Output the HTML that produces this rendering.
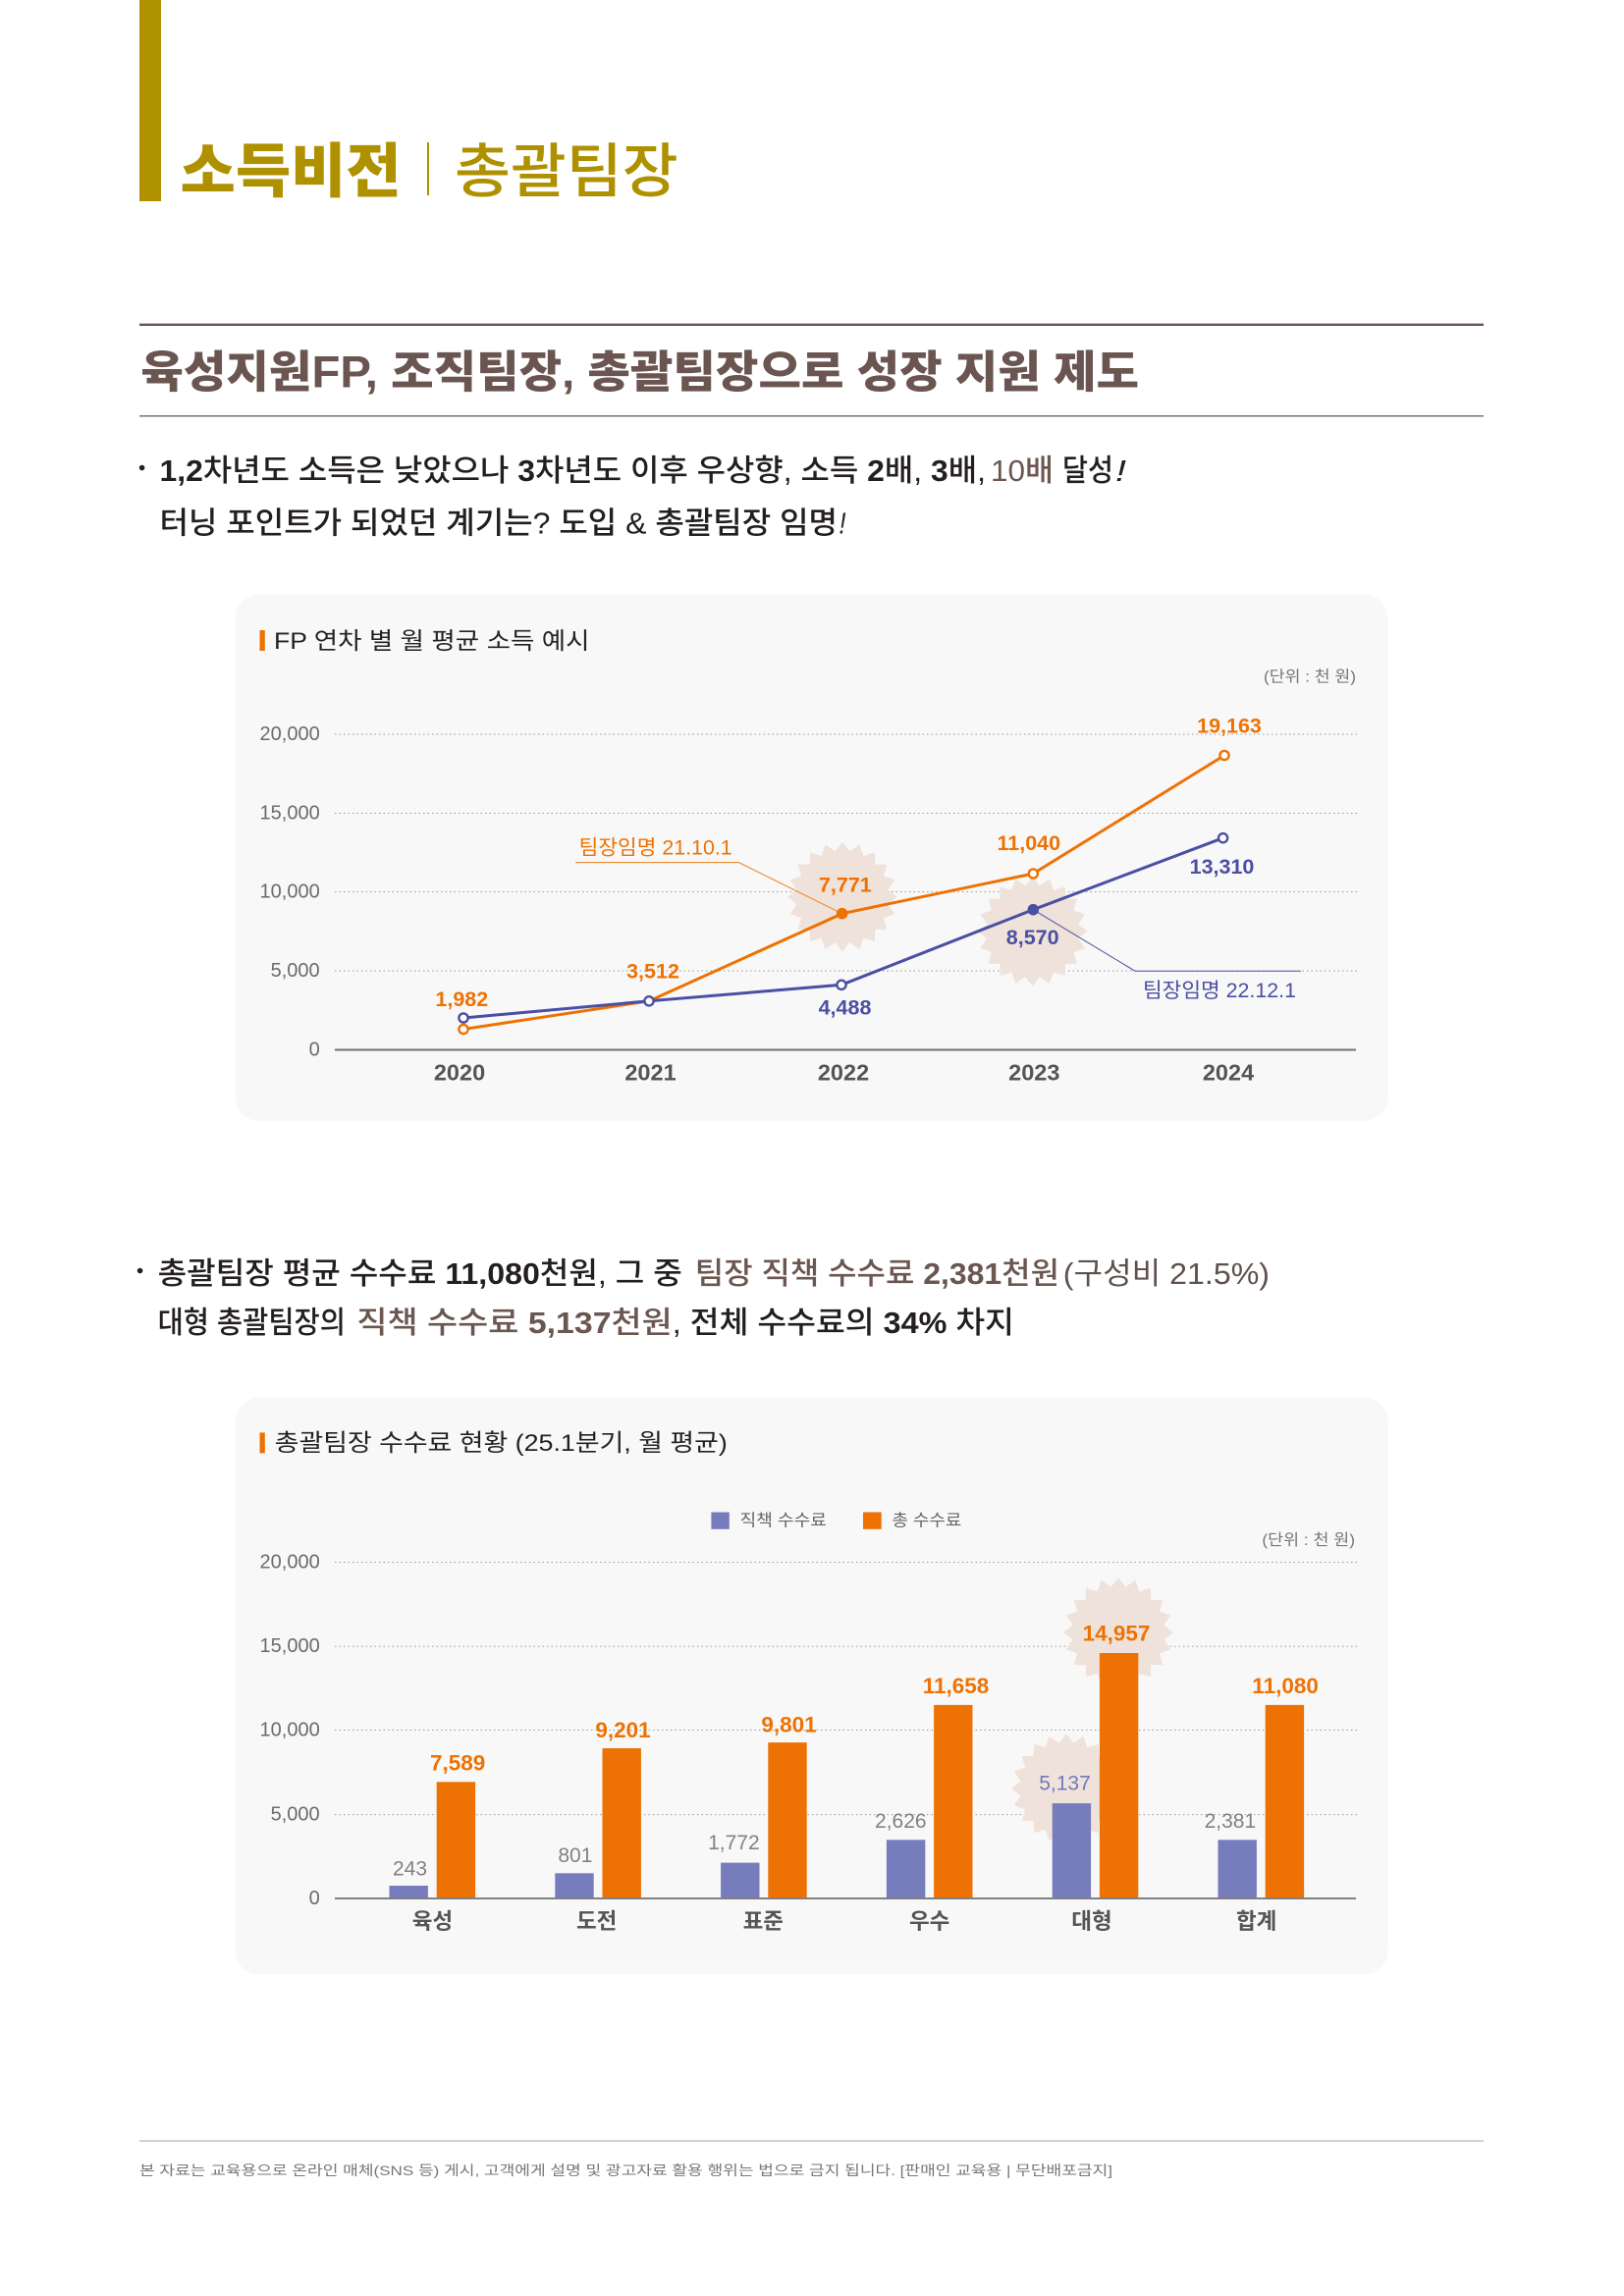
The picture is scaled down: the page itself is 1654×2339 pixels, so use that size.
<!DOCTYPE html>
<html lang="ko">
<head>
<meta charset="utf-8">
<title>소득비전 | 총괄팀장</title>
<style>
  html, body { margin: 0; padding: 0; background: #ffffff; }
  svg { display: block; }
</style>
</head>
<body>
<svg width="1654" height="2339" viewBox="0 0 1654 2339" xmlns="http://www.w3.org/2000/svg" font-family='"Liberation Sans", "Noto Sans CJK KR", sans-serif'>
  <defs>
    <polygon id="burst" points="56,0 46.42,7.35 53.26,17.30 41.88,21.34 45.30,32.92 33.23,33.23 32.92,45.30 21.34,41.88 17.30,53.26 7.35,46.42 0,56 -7.35,46.42 -17.30,53.26 -21.34,41.88 -32.92,45.30 -33.23,33.23 -45.30,32.92 -41.88,21.34 -53.26,17.30 -46.42,7.35 -56,0 -46.42,-7.35 -53.26,-17.30 -41.88,-21.34 -45.30,-32.92 -33.23,-33.23 -32.92,-45.30 -21.34,-41.88 -17.30,-53.26 -7.35,-46.42 0,-56 7.35,-46.42 17.30,-53.26 21.34,-41.88 32.92,-45.30 33.23,-33.23 45.30,-32.92 41.88,-21.34 53.26,-17.30 46.42,-7.35" fill="#efe2da"/>
  </defs>

  <rect x="0" y="0" width="1654" height="2339" fill="#ffffff"/>

  <!-- ===== Header ===== -->
  <rect x="142" y="0" width="22" height="205" fill="#af9100"/>
  <text x="183.6" y="195.7" font-size="60" font-weight="900" fill="#af9100" textLength="225" lengthAdjust="spacingAndGlyphs">소득비전</text>
  <rect x="435" y="145" width="2" height="54" fill="#af9100"/>
  <text x="463" y="195.7" font-size="60" font-weight="500" fill="#af9100" textLength="227.7" lengthAdjust="spacingAndGlyphs">총괄팀장</text>

  <rect x="142" y="329.6" width="1369" height="2.4" fill="#6a5550"/>
  <text x="143.4" y="394.3" font-size="45" font-weight="900" fill="#6a5550" textLength="1016.6" lengthAdjust="spacingAndGlyphs">육성지원FP, 조직팀장, 총괄팀장으로 성장 지원 제도</text>
  <rect x="142" y="423" width="1369" height="1.6" fill="#847874"/>

  <!-- ===== Section 1 text ===== -->
  <circle cx="144.6" cy="476.5" r="2.8" fill="#231f20"/>
  <text x="162.5" y="490" font-size="31" font-weight="500" fill="#231f20" textLength="841.5" lengthAdjust="spacingAndGlyphs"><tspan font-weight="700">1,2</tspan>차년도 소득은 낮았으나 <tspan font-weight="700">3</tspan>차년도 이후 우상향, 소득 <tspan font-weight="700">2</tspan>배, <tspan font-weight="700">3</tspan>배,</text>
  <text x="1009" y="490" font-size="31" font-weight="500" fill="#6b5650" textLength="64" lengthAdjust="spacingAndGlyphs">10배</text>
  <text x="1082" y="490" font-size="31" font-weight="500" fill="#231f20" textLength="52" lengthAdjust="spacingAndGlyphs">달성</text>
  <text x="1136" y="490" font-size="31" font-weight="500" font-style="italic" fill="#231f20" textLength="11" lengthAdjust="spacingAndGlyphs">!</text>

  <text x="162.5" y="543.5" font-size="31" font-weight="500" fill="#231f20" textLength="690.5" lengthAdjust="spacingAndGlyphs">터닝 포인트가 되었던 계기는? 도입 &amp; 총괄팀장 임명</text>
  <text x="854.5" y="543.5" font-size="31" font-weight="500" font-style="italic" fill="#231f20" textLength="7" lengthAdjust="spacingAndGlyphs">!</text>

  <!-- ===== Chart 1 card ===== -->
  <rect x="239.6" y="605.7" width="1174" height="536" rx="24" ry="24" fill="#f8f8f8"/>
  <rect x="264.5" y="642" width="5.3" height="21" fill="#ee7203"/>
  <text x="279" y="661" font-size="24" font-weight="400" fill="#222222" textLength="321.5" lengthAdjust="spacingAndGlyphs">FP 연차 별 월 평균 소득 예시</text>
  <text x="1381" y="690" font-size="16" fill="#777777" text-anchor="end" dominant-baseline="central" textLength="94" lengthAdjust="spacingAndGlyphs">(단위 : 천 원)</text>

  <!-- gridlines -->
  <g stroke="#9a9a9a" stroke-width="1" stroke-dasharray="1.5 3">
    <line x1="341" y1="748" x2="1382" y2="748"/>
    <line x1="341" y1="828.5" x2="1382" y2="828.5"/>
    <line x1="341" y1="908.5" x2="1382" y2="908.5"/>
    <line x1="341" y1="989" x2="1382" y2="989"/>
  </g>
  <line x1="341" y1="1069.5" x2="1381" y2="1069.5" stroke="#707070" stroke-width="2"/>

  <g font-size="20" fill="#6b6b6b" text-anchor="end" dominant-baseline="central">
    <text x="325.7" y="748">20,000</text>
    <text x="325.7" y="828.5">15,000</text>
    <text x="325.7" y="908.5">10,000</text>
    <text x="325.7" y="989">5,000</text>
    <text x="325.7" y="1069.5">0</text>
  </g>

  <g font-size="23.5" font-weight="700" fill="#555555" text-anchor="middle" dominant-baseline="central">
    <text x="468" y="1092.7">2020</text>
    <text x="662.5" y="1092.7">2021</text>
    <text x="859" y="1092.7">2022</text>
    <text x="1053.3" y="1092.7">2023</text>
    <text x="1251" y="1092.7">2024</text>
  </g>

  <!-- bursts -->
  <use href="#burst" x="858" y="913.7"/>
  <use href="#burst" x="1051.7" y="948.7"/>

  <!-- leaders -->
  <polyline points="586,878.6 752.4,878.6 857.7,930.7" fill="none" stroke="#f08a30" stroke-width="1.1"/>
  <polyline points="1052.3,926.7 1156,989.2 1324.8,989.2" fill="none" stroke="#4a4fa3" stroke-width="1"/>

  <!-- lines -->
  <polyline points="472,1048.5 661,1019.8 857.7,930.7 1052.3,890 1247,769.5" fill="none" stroke="#ee7203" stroke-width="3" stroke-linejoin="round"/>
  <polyline points="472,1037 661,1019.8 857,1003.3 1052.3,926.7 1245.6,853.7" fill="none" stroke="#4a4fa3" stroke-width="3" stroke-linejoin="round"/>

  <!-- markers -->
  <g fill="#ffffff" stroke="#ee7203" stroke-width="2.4">
    <circle cx="472" cy="1048.5" r="4.6"/>
    <circle cx="1052.3" cy="890" r="4.6"/>
    <circle cx="1247" cy="769.5" r="4.6"/>
  </g>
  <circle cx="857.7" cy="930.7" r="5.8" fill="#ee7203"/>
  <g fill="#ffffff" stroke="#4a4fa3" stroke-width="2.4">
    <circle cx="472" cy="1037" r="4.6"/>
    <circle cx="661" cy="1019.8" r="4.6"/>
    <circle cx="857" cy="1003.3" r="4.6"/>
    <circle cx="1245.6" cy="853.7" r="4.6"/>
  </g>
  <circle cx="1052.3" cy="926.7" r="5.8" fill="#4a4fa3"/>

  <!-- value labels chart 1 -->
  <g font-size="21.5" font-weight="700" text-anchor="middle" dominant-baseline="central">
    <text x="470.3" y="1018" fill="#ee7203">1,982</text>
    <text x="665" y="989.6" fill="#ee7203">3,512</text>
    <text x="860.8" y="901.7" fill="#ee7203">7,771</text>
    <text x="1047.8" y="859" fill="#ee7203">11,040</text>
    <text x="1252" y="739.7" fill="#ee7203">19,163</text>
    <text x="860.5" y="1026.7" fill="#4a4fa3">4,488</text>
    <text x="1051.7" y="955" fill="#4a4fa3">8,570</text>
    <text x="1244.5" y="883.2" fill="#4a4fa3">13,310</text>
  </g>
  <text x="589.7" y="864" font-size="21" fill="#ee7203" dominant-baseline="central" textLength="156" lengthAdjust="spacingAndGlyphs">팀장임명 21.10.1</text>
  <text x="1164" y="1009.5" font-size="21" fill="#4a4fa3" dominant-baseline="central" textLength="156" lengthAdjust="spacingAndGlyphs">팀장임명 22.12.1</text>

  <!-- ===== Section 2 text ===== -->
  <circle cx="142.6" cy="1294.5" r="2.8" fill="#231f20"/>
  <text x="160.6" y="1308" font-size="31" font-weight="500" fill="#231f20" textLength="534.2" lengthAdjust="spacingAndGlyphs">총괄팀장 평균 수수료 <tspan font-weight="700">11,080</tspan>천원, 그 중</text>
  <text x="707.8" y="1308" font-size="31" font-weight="500" fill="#6b5650" textLength="371.2" lengthAdjust="spacingAndGlyphs">팀장 직책 수수료 <tspan font-weight="700">2,381</tspan>천원</text>
  <text x="1082.8" y="1308" font-size="31" font-weight="400" fill="#5e514d" textLength="210.2" lengthAdjust="spacingAndGlyphs">(구성비 21.5%)</text>

  <text x="160.6" y="1358" font-size="31" font-weight="500" fill="#231f20" textLength="191.4" lengthAdjust="spacingAndGlyphs">대형 총괄팀장의</text>
  <text x="363.4" y="1358" font-size="31" font-weight="500" fill="#6b5650" textLength="321.4" lengthAdjust="spacingAndGlyphs">직책 수수료 <tspan font-weight="700">5,137</tspan>천원</text>
  <text x="684.8" y="1358" font-size="31" font-weight="500" fill="#231f20" textLength="348.2" lengthAdjust="spacingAndGlyphs">, 전체 수수료의 <tspan font-weight="700">34%</tspan> 차지</text>

  <!-- ===== Chart 2 card ===== -->
  <rect x="239.6" y="1423.8" width="1174" height="587.5" rx="24" ry="24" fill="#f8f8f8"/>
  <rect x="264.5" y="1459.4" width="5.3" height="21" fill="#ee7203"/>
  <text x="279.8" y="1478" font-size="24.5" font-weight="400" fill="#222222" textLength="461" lengthAdjust="spacingAndGlyphs">총괄팀장 수수료 현황 (25.1분기, 월 평균)</text>

  <!-- legend -->
  <rect x="724.4" y="1540.5" width="18.4" height="17.3" fill="#767cbc"/>
  <text x="753.5" y="1549" font-size="17" fill="#666666" dominant-baseline="central" textLength="88.5" lengthAdjust="spacingAndGlyphs">직책 수수료</text>
  <rect x="879" y="1540.5" width="18.7" height="17.3" fill="#ee7203"/>
  <text x="908.5" y="1549" font-size="17" fill="#666666" dominant-baseline="central" textLength="70.8" lengthAdjust="spacingAndGlyphs">총 수수료</text>
  <text x="1380" y="1569.3" font-size="16" fill="#777777" text-anchor="end" dominant-baseline="central" textLength="94.6" lengthAdjust="spacingAndGlyphs">(단위 : 천 원)</text>

  <!-- gridlines -->
  <g stroke="#9a9a9a" stroke-width="1" stroke-dasharray="1.5 3">
    <line x1="341" y1="1591.5" x2="1382" y2="1591.5"/>
    <line x1="341" y1="1677.2" x2="1382" y2="1677.2"/>
    <line x1="341" y1="1762.5" x2="1382" y2="1762.5"/>
    <line x1="341" y1="1848.6" x2="1382" y2="1848.6"/>
  </g>

  <g font-size="20" fill="#6b6b6b" text-anchor="end" dominant-baseline="central">
    <text x="325.7" y="1591.5">20,000</text>
    <text x="325.7" y="1677.2">15,000</text>
    <text x="325.7" y="1762.5">10,000</text>
    <text x="325.7" y="1848.6">5,000</text>
    <text x="325.7" y="1934">0</text>
  </g>

  <!-- bursts chart 2 -->
  <use href="#burst" x="1139" y="1663"/>
  <use href="#burst" x="1086" y="1822"/>

  <!-- bars: blue -->
  <g fill="#767cbc">
    <rect x="396.5" y="1921" width="39.4" height="13"/>
    <rect x="565.3" y="1908.3" width="39.4" height="25.7"/>
    <rect x="734.1" y="1897.6" width="39.4" height="36.4"/>
    <rect x="902.9" y="1874.3" width="39.4" height="59.7"/>
    <rect x="1071.7" y="1837.1" width="39.4" height="96.9"/>
    <rect x="1240.5" y="1874.3" width="39.4" height="59.7"/>
  </g>
  <!-- bars: orange -->
  <g fill="#ee7203">
    <rect x="444.7" y="1815.3" width="39.4" height="118.7"/>
    <rect x="613.5" y="1781" width="39.4" height="153"/>
    <rect x="782.3" y="1775.1" width="39.4" height="158.9"/>
    <rect x="951.1" y="1736.9" width="39.4" height="197.1"/>
    <rect x="1119.9" y="1684" width="39.4" height="250"/>
    <rect x="1288.7" y="1736.9" width="39.4" height="197.1"/>
  </g>

  <line x1="341" y1="1934" x2="1381" y2="1934" stroke="#808080" stroke-width="2"/>

  <!-- value labels chart 2 -->
  <g font-size="21" font-weight="400" fill="#858080" text-anchor="middle" dominant-baseline="central">
    <text x="417.5" y="1904">243</text>
    <text x="585.9" y="1890.7">801</text>
    <text x="747.4" y="1877.3">1,772</text>
    <text x="917.3" y="1855.5">2,626</text>
    <text x="1084.5" y="1817.2" fill="#7379bd">5,137</text>
    <text x="1252.9" y="1855.5">2,381</text>
  </g>
  <g font-size="22.5" font-weight="700" fill="#ee7203" text-anchor="middle" dominant-baseline="central">
    <text x="466.1" y="1796.2">7,589</text>
    <text x="634.5" y="1762.5">9,201</text>
    <text x="803.5" y="1756.8">9,801</text>
    <text x="973.5" y="1717.7">11,658</text>
    <text x="1137" y="1663.8">14,957</text>
    <text x="1309.1" y="1717.7">11,080</text>
  </g>

  <g font-size="22.5" font-weight="700" fill="#555555" text-anchor="middle" dominant-baseline="central">
    <text x="440.5" y="1957.7">육성</text>
    <text x="607.7" y="1957.7">도전</text>
    <text x="777.3" y="1957.7">표준</text>
    <text x="946.7" y="1957.7">우수</text>
    <text x="1112" y="1957.7">대형</text>
    <text x="1279.7" y="1957.7">합계</text>
  </g>

  <!-- ===== Footer ===== -->
  <rect x="142" y="2180.3" width="1369" height="1.5" fill="#c2c2c2"/>
  <text x="142" y="2216" font-size="14" fill="#777777" textLength="991" lengthAdjust="spacingAndGlyphs">본 자료는 교육용으로 온라인 매체(SNS 등) 게시, 고객에게 설명 및 광고자료 활용 행위는 법으로 금지 됩니다. [판매인 교육용 | 무단배포금지]</text>
</svg>
</body>
</html>
